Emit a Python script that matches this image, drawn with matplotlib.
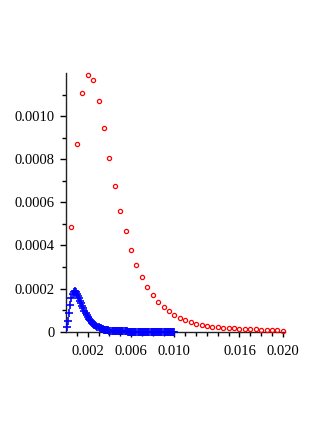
import numpy as np
import matplotlib
matplotlib.use("Agg")
import matplotlib.pyplot as plt

# Red series: x in steps of 0.0005, values in units of 1e-6
red_x = [0.0005 * i for i in range(1, 41)]
red_y_micro = [485, 869, 1107, 1193, 1167, 1071, 943, 807, 675, 562,
               465, 381, 310, 253, 208, 170, 139, 116, 96, 77,
               65, 56, 46, 37, 32, 26, 22, 21, 19, 17,
               16, 14, 12, 12, 11, 9, 8, 8, 6, 4]

# Blue series: x in steps of 0.0001, values in units of 1e-6
blue_x = [0.0001 * i for i in range(1, 101)]
blue_y_micro = [20, 50, 88, 125, 155, 174, 184, 187, 184, 177,
                167, 156, 144, 132, 120, 108, 97, 87, 78, 69,
                61, 54, 48, 42, 37, 33, 29, 25, 22, 20,
                17, 15, 13, 12, 10, 9, 8, 7, 6, 5.5,
                5, 4.5, 4, 3.5, 3, 2.8, 2.5, 2.2, 2, 1.8,
                1.6, 1.4, 1.3, 1.2, 1.1, 1.0, 0.9, 0.8, 0.7, 0.6,
                0.6, 0.5, 0.5, 0.5, 0.4, 0.4, 0.4, 0.3, 0.3, 0.3,
                0.3, 0.2, 0.2, 0.2, 0.2, 0.2, 0.2, 0.1, 0.1, 0.1,
                0.1, 0.1, 0.1, 0.1, 0.1, 0.1, 0.1, 0.1, 0.1, 0.1,
                0.1, 0.1, 0.1, 0.1, 0.1, 0.1, 0.1, 0.1, 0.1, 0.1]

x_major = [0.002, 0.006, 0.010, 0.016, 0.020]
x_major_labels = ["0.002", "0.006", "0.010", "0.016", "0.020"]
x_minor = [0.001 * i for i in range(1, 21)]
y_major = [0, 0.0002, 0.0004, 0.0006, 0.0008, 0.0010]
y_major_labels = ["0", "0.0002", "0.0004", "0.0006", "0.0008", "0.0010"]
y_minor = [0.0001, 0.0003, 0.0005, 0.0007, 0.0009, 0.0011]

red_y = np.array(red_y_micro) * 1e-6
blue_y = np.array(blue_y_micro) * 1e-6

plt.rcParams['font.family'] = ['Liberation Serif', 'DejaVu Serif']

fig = plt.figure(figsize=(3.26, 4.21), dpi=100)
ax = fig.add_axes([66/326, 1 - 331.7/421, (285 - 66)/326, (331.7 - 73)/421])

ax.plot(blue_x, blue_y, linestyle='none', marker='+', color='#0000ff',
        markersize=5.5, markeredgewidth=1.2, clip_on=False, zorder=3)
ax.plot(red_x, red_y, linestyle='none', marker='o', markerfacecolor='none',
        markeredgecolor='#ff0000', markersize=3.0, markeredgewidth=0.9,
        clip_on=False, zorder=4)

ax.set_xlim(0, 0.0202)
ax.set_ylim(0, 0.0012)

for s in ['top', 'right']:
    ax.spines[s].set_visible(False)
for s in ['left', 'bottom']:
    ax.spines[s].set_linewidth(1.0)
    ax.spines[s].set_color('#222222')

ax.set_xticks(x_major)
ax.set_xticklabels(x_major_labels)
ax.set_xticks(x_minor, minor=True)
ax.set_yticks(y_major)
ax.set_yticklabels(y_major_labels)
ax.set_yticks(y_minor, minor=True)

ax.tick_params(axis='both', which='major', direction='out', length=4.3,
               width=1.0, labelsize=10.5, pad=4)
ax.tick_params(axis='both', which='minor', direction='out', length=3, width=1.0)
ax.tick_params(axis='x', which='major', length=3.5, pad=6)

fig.savefig("out.png", dpi=100)
